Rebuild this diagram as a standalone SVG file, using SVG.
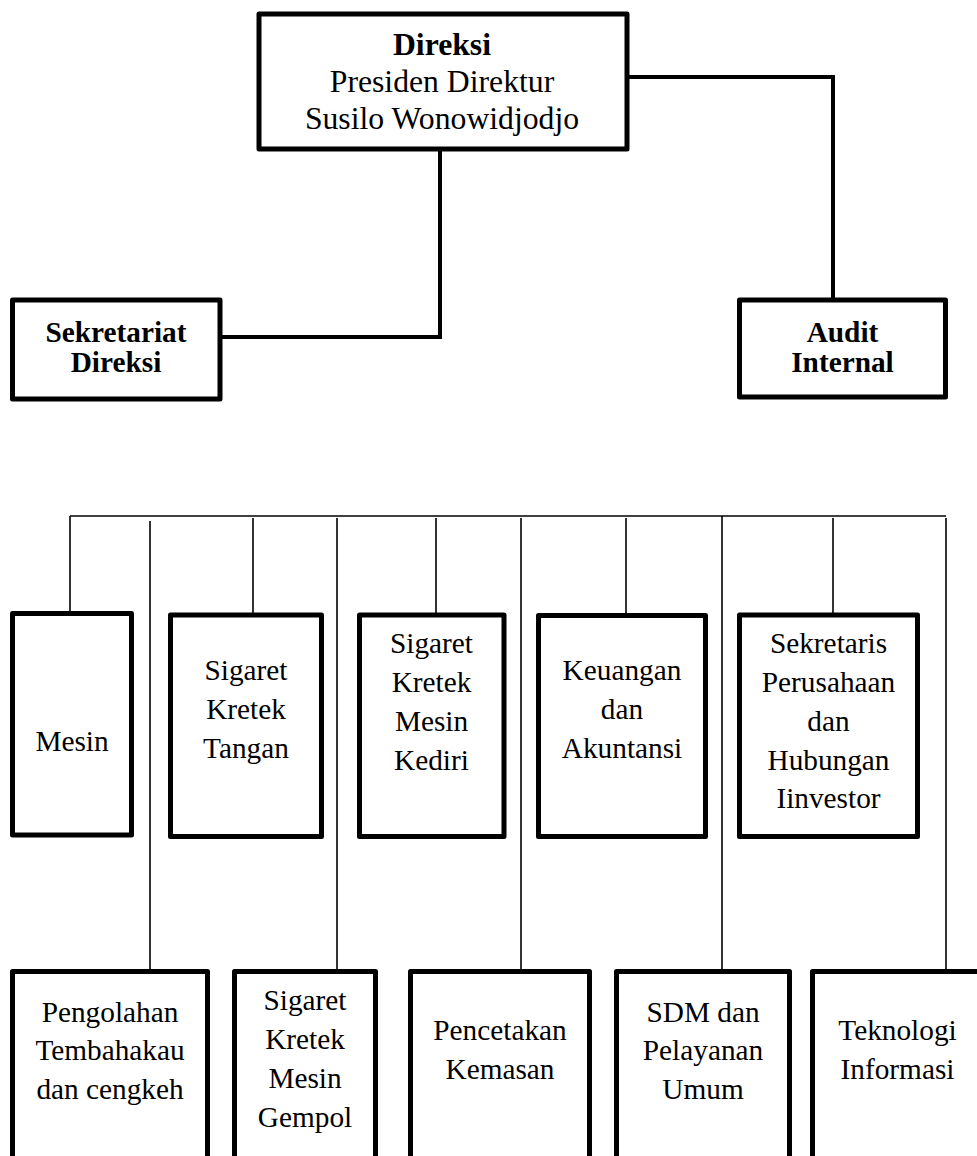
<svg xmlns="http://www.w3.org/2000/svg" width="977" height="1156" viewBox="0 0 977 1156">
<style>
.box{fill:#fff;stroke:#000;stroke-width:5;stroke-linejoin:round}
.thick{fill:none;stroke:#000;stroke-width:4}
.thin{fill:none;stroke:#000;stroke-width:1.6}
text{font-family:"Liberation Serif","Times New Roman",serif;fill:#000;text-anchor:middle}
.t{font-size:29.3px}
.b{font-size:29.3px;font-weight:bold}
.top{font-size:31.7px}
</style>
<rect width="977" height="1156" fill="#fff"/>
<g id="connectors">
<polyline class="thick" points="629,77 833,77 833,298"/>
<polyline class="thick" points="440,150 440,337 222,337"/>
<line class="thin" x1="70" y1="516" x2="946" y2="516"/>
<line class="thin" x1="70" y1="516" x2="70" y2="612"/>
<line class="thin" x1="150" y1="521" x2="150" y2="970"/>
<line class="thin" x1="253" y1="518" x2="253" y2="613"/>
<line class="thin" x1="337" y1="518" x2="337" y2="970"/>
<line class="thin" x1="436" y1="518" x2="436" y2="613"/>
<line class="thin" x1="521" y1="518" x2="521" y2="970"/>
<line class="thin" x1="626" y1="518" x2="626" y2="613"/>
<line class="thin" x1="722" y1="516" x2="722" y2="970"/>
<line class="thin" x1="833" y1="518" x2="833" y2="613"/>
<line class="thin" x1="946" y1="518" x2="946" y2="970"/>
</g>
<g id="direksi">
<rect class="box" x="259" y="14" width="368" height="135"/>
<text class="top" x="442" y="54.5" font-weight="bold">Direksi</text>
<text class="top" x="442" y="91.5">Presiden Direktur</text>
<text class="top" x="442" y="128.5">Susilo Wonowidjodjo</text>
</g>
<g id="sekretariat">
<rect class="box" x="12.5" y="300" width="207.5" height="99"/>
<text class="b" x="116" y="342">Sekretariat</text>
<text class="b" x="116" y="372">Direksi</text>
</g>
<g id="audit">
<rect class="box" x="739.5" y="300" width="206" height="97"/>
<text class="b" x="842.5" y="342">Audit</text>
<text class="b" x="842.5" y="372">Internal</text>
</g>
<g id="mesin">
<rect class="box" x="12.5" y="613.5" width="119" height="221.5"/>
<text class="t" x="72" y="751">Mesin</text>
</g>
<g id="skt">
<rect class="box" x="170.5" y="615" width="151" height="221.5"/>
<text class="t" x="246" y="680">Sigaret</text>
<text class="t" x="246" y="719">Kretek</text>
<text class="t" x="246" y="758">Tangan</text>
</g>
<g id="skm-kediri">
<rect class="box" x="359.5" y="615" width="144.5" height="221.5"/>
<text class="t" x="431.5" y="653">Sigaret</text>
<text class="t" x="431.5" y="692">Kretek</text>
<text class="t" x="431.5" y="731">Mesin</text>
<text class="t" x="431.5" y="770">Kediri</text>
</g>
<g id="keuangan">
<rect class="box" x="538.5" y="615.5" width="167" height="221"/>
<text class="t" x="622" y="680">Keuangan</text>
<text class="t" x="622" y="719">dan</text>
<text class="t" x="622" y="758">Akuntansi</text>
</g>
<g id="sekretaris">
<rect class="box" x="739.5" y="615" width="178" height="221.5"/>
<text class="t" x="828.5" y="653">Sekretaris</text>
<text class="t" x="828.5" y="692">Perusahaan</text>
<text class="t" x="828.5" y="731">dan</text>
<text class="t" x="828.5" y="770">Hubungan</text>
<text class="t" x="828.5" y="808">Iinvestor</text>
</g>
<g id="pengolahan">
<rect class="box" x="12.5" y="971.5" width="195" height="200"/>
<text class="t" x="110" y="1022">Pengolahan</text>
<text class="t" x="110" y="1060">Tembahakau</text>
<text class="t" x="110" y="1099">dan cengkeh</text>
</g>
<g id="skm-gempol">
<rect class="box" x="234.5" y="971.5" width="141" height="200"/>
<text class="t" x="305" y="1010">Sigaret</text>
<text class="t" x="305" y="1049">Kretek</text>
<text class="t" x="305" y="1088">Mesin</text>
<text class="t" x="305" y="1127">Gempol</text>
</g>
<g id="pencetakan">
<rect class="box" x="410.5" y="971.5" width="179" height="200"/>
<text class="t" x="500" y="1040">Pencetakan</text>
<text class="t" x="500" y="1079">Kemasan</text>
</g>
<g id="sdm">
<rect class="box" x="616.5" y="971.5" width="173" height="200"/>
<text class="t" x="703" y="1022">SDM dan</text>
<text class="t" x="703" y="1060">Pelayanan</text>
<text class="t" x="703" y="1099">Umum</text>
</g>
<g id="teknologi">
<rect class="box" x="812.5" y="971.5" width="180" height="200"/>
<text class="t" x="897.5" y="1040">Teknologi</text>
<text class="t" x="897.5" y="1079">Informasi</text>
</g>
</svg>
